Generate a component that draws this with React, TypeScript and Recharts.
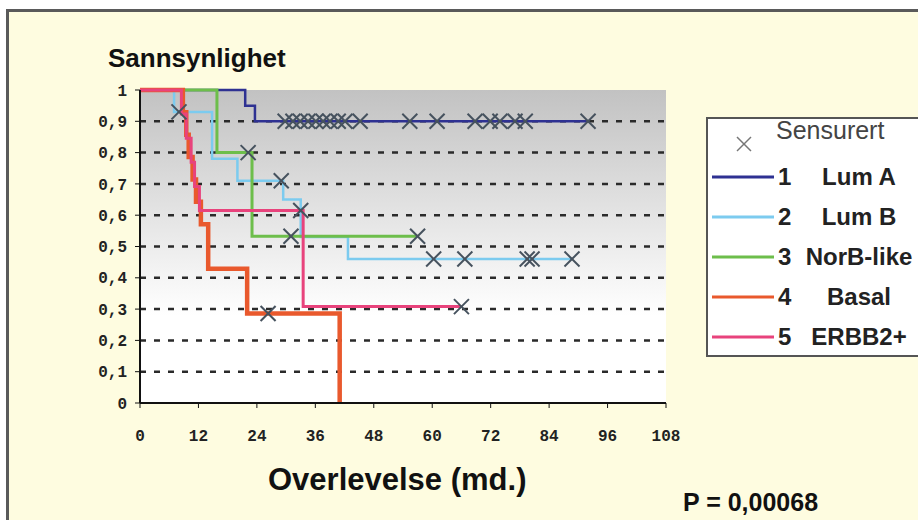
import React from "react";
import { ComposedChart, Line, Scatter, XAxis, YAxis, CartesianGrid } from "recharts";

// x axis (months) and y axis (probability)
const monthTicks = [0, 12, 24, 36, 48, 60, 72, 84, 96, 108];
const probTicks = [0, 0.1, 0.2, 0.3, 0.4, 0.5, 0.6, 0.7, 0.8, 0.9, 1];
const gridLevels = [0.1, 0.2, 0.3, 0.4, 0.5, 0.6, 0.7, 0.8, 0.9];

// Kaplan-Meier steps per subtype: times (md.) and survival after each step
const lumATimes = [0, 21.6, 23.6, 92];
const lumASurv = [1, 0.95, 0.9, 0.9];
const lumACensored = [29.8, 31.4, 32.9, 34.5, 36.1, 37.6, 39, 40.7, 42.1, 45.2, 55.4, 61, 68.8, 71.9, 73.9, 77, 79.1, 92];

const lumBTimes = [0, 7, 14.8, 20, 29.4, 33, 42.7, 88.7];
const lumBSurv = [1, 0.93, 0.78, 0.71, 0.65, 0.53, 0.46, 0.46];
const lumBCensored = [8, 29, 60.3, 66.7, 79.5, 80.5, 88.7];

const norBTimes = [0, 15.8, 23, 57];
const norBSurv = [1, 0.8, 0.533, 0.533];
const norBCensored = [22.2, 31, 57];

const basalTimes = [0, 8.8, 9.5, 10, 10.8, 11.5, 12.5, 14, 22, 41];
const basalSurv = [1, 0.929, 0.857, 0.786, 0.714, 0.643, 0.571, 0.429, 0.286, 0];
const basalCensored = [26.3];

const erbbTimes = [0, 8.5, 9.5, 10.5, 11.2, 12.2, 33.5, 66];
const erbbSurv = [1, 0.923, 0.846, 0.769, 0.692, 0.615, 0.308, 0.308];
const erbbCensored = [33, 66];

const legendItems = [
  { num: "1", name: "Lum A", color: "#2e3192" },
  { num: "2", name: "Lum B", color: "#7ccbef" },
  { num: "3", name: "NorB-like", color: "#6dbe4b" },
  { num: "4", name: "Basal", color: "#e9592d" },
  { num: "5", name: "ERBB2+", color: "#e8437c" },
];

function steps(times: number[], surv: number[]) {
  return times.map((t, i) => ({ t, s: surv[i] }));
}

function survAt(times: number[], surv: number[], t: number) {
  let s = surv[0];
  times.forEach((tt, i) => {
    if (tt <= t) s = surv[i];
  });
  return s;
}

function censorPoints(cens: number[], times: number[], surv: number[]) {
  return cens.map((t) => ({ t, s: survAt(times, surv, t) }));
}

const censored = [
  ...censorPoints(lumACensored, lumATimes, lumASurv),
  ...censorPoints(lumBCensored, lumBTimes, lumBSurv),
  ...censorPoints(norBCensored, norBTimes, norBSurv),
  ...censorPoints(basalCensored, basalTimes, basalSurv),
  ...censorPoints(erbbCensored, erbbTimes, erbbSurv),
];

const CensorMark = (props: any) => {
  const { cx, cy } = props;
  const d = 7.5;
  return (
    <g stroke="#46525e" strokeWidth={2}>
      <line x1={cx - d} y1={cy - d} x2={cx + d} y2={cy + d} />
      <line x1={cx - d} y1={cy + d} x2={cx + d} y2={cy - d} />
    </g>
  );
};

const monoTick = { fontFamily: "Liberation Mono", fontWeight: 700, fontSize: 16, fill: "#222" };

export default function App() {
  return (
    <div style={{ position: "absolute", left: 0, top: 0, width: 918, height: 520, overflow: "hidden", background: "#fff" }}>
      <svg width={0} height={0} style={{ position: "absolute" }}>
        <defs>
          <linearGradient id="plotBg" x1="0" y1="0" x2="0" y2="1">
            <stop offset="0%" stopColor="#c2c2c2" />
            <stop offset="72%" stopColor="#ffffff" />
            <stop offset="100%" stopColor="#ffffff" />
          </linearGradient>
        </defs>
      </svg>
      <div
        style={{
          position: "absolute",
          left: 6,
          top: 9,
          width: 940,
          height: 540,
          border: "3px solid #5a5a5a",
          background: "#fefce0",
        }}
      />
      <div style={{ position: "absolute", left: 0, top: 0 }}>
        <ComposedChart width={918} height={520} margin={{ top: 90, right: 252, bottom: 77, left: 80 }}>
          <CartesianGrid
            vertical={false}
            horizontalValues={gridLevels}
            stroke="#2a2a2a"
            strokeWidth={2.5}
            strokeDasharray="6 8"
            fill="url(#plotBg)"
          />
          <XAxis
            dataKey="t"
            type="number"
            domain={[0, 108]}
            ticks={monthTicks}
            interval={0}
            height={40}
            tickSize={5}
            tickMargin={22}
            tick={monoTick}
            axisLine={{ stroke: "#111", strokeWidth: 2 }}
            tickLine={{ stroke: "#111" }}
          />
          <YAxis
            dataKey="s"
            type="number"
            domain={[0, 1]}
            ticks={probTicks}
            interval={0}
            width={60}
            tickSize={5}
            tickMargin={8}
            tick={monoTick}
            tickFormatter={(v: number) => String(v).replace(".", ",")}
            axisLine={{ stroke: "#111", strokeWidth: 2 }}
            tickLine={{ stroke: "#111" }}
          />
          <Line data={steps(lumATimes, lumASurv)} dataKey="s" type="stepAfter" stroke="#2e3192" strokeWidth={2.5} dot={false} isAnimationActive={false} />
          <Line data={steps(lumBTimes, lumBSurv)} dataKey="s" type="stepAfter" stroke="#7ccbef" strokeWidth={2.5} dot={false} isAnimationActive={false} />
          <Line data={steps(norBTimes, norBSurv)} dataKey="s" type="stepAfter" stroke="#6dbe4b" strokeWidth={3} dot={false} isAnimationActive={false} />
          <Line data={steps(basalTimes, basalSurv)} dataKey="s" type="stepAfter" stroke="#e9592d" strokeWidth={4.5} dot={false} isAnimationActive={false} />
          <Line data={steps(erbbTimes, erbbSurv)} dataKey="s" type="stepAfter" stroke="#e8437c" strokeWidth={3} dot={false} isAnimationActive={false} />
          <Scatter data={censored} dataKey="s" shape={CensorMark} isAnimationActive={false} />
        </ComposedChart>
      </div>

      <div style={{ position: "absolute", left: 108, top: 43, fontFamily: "Liberation Sans", fontWeight: 700, fontSize: 26, color: "#111", lineHeight: "30px" }}>
        Sannsynlighet
      </div>
      <div style={{ position: "absolute", left: 268, top: 463, fontFamily: "Liberation Sans", fontWeight: 700, fontSize: 31, color: "#111", lineHeight: "34px" }}>
        Overlevelse (md.)
      </div>
      <div style={{ position: "absolute", left: 683, top: 488, fontFamily: "Liberation Sans", fontWeight: 700, fontSize: 25, color: "#111", lineHeight: "28px" }}>
        P = 0,00068
      </div>

      <div
        style={{
          position: "absolute",
          left: 706,
          top: 117,
          width: 240,
          height: 236,
          border: "2px solid #555",
          background: "#fff",
          fontFamily: "Liberation Sans",
          color: "#222",
        }}
      >
        <svg width={30} height={30} style={{ position: "absolute", left: 21, top: 10 }}>
          <g stroke="#777" strokeWidth={1.5}>
            <line x1={8} y1={8} x2={22} y2={22} />
            <line x1={8} y1={22} x2={22} y2={8} />
          </g>
        </svg>
        <div style={{ position: "absolute", left: 68, top: -3, fontSize: 25, lineHeight: "28px", color: "#444" }}>Sensurert</div>
        {legendItems.map((it, i) => (
          <div key={it.name} style={{ position: "absolute", left: 0, top: 43 + i * 40, width: 240, height: 30 }}>
            <svg width={70} height={30} style={{ position: "absolute", left: 4, top: 0 }}>
              <line x1={0} y1={15} x2={62} y2={15} stroke={it.color} strokeWidth={3} />
            </svg>
            <div style={{ position: "absolute", left: 70, top: 1, fontSize: 24, fontWeight: 700, lineHeight: "28px" }}>{it.num}</div>
            <div style={{ position: "absolute", left: 90, top: 1, width: 122, textAlign: "center", fontSize: 24, fontWeight: 700, lineHeight: "28px" }}>
              {it.name}
            </div>
          </div>
        ))}
      </div>
    </div>
  );
}
